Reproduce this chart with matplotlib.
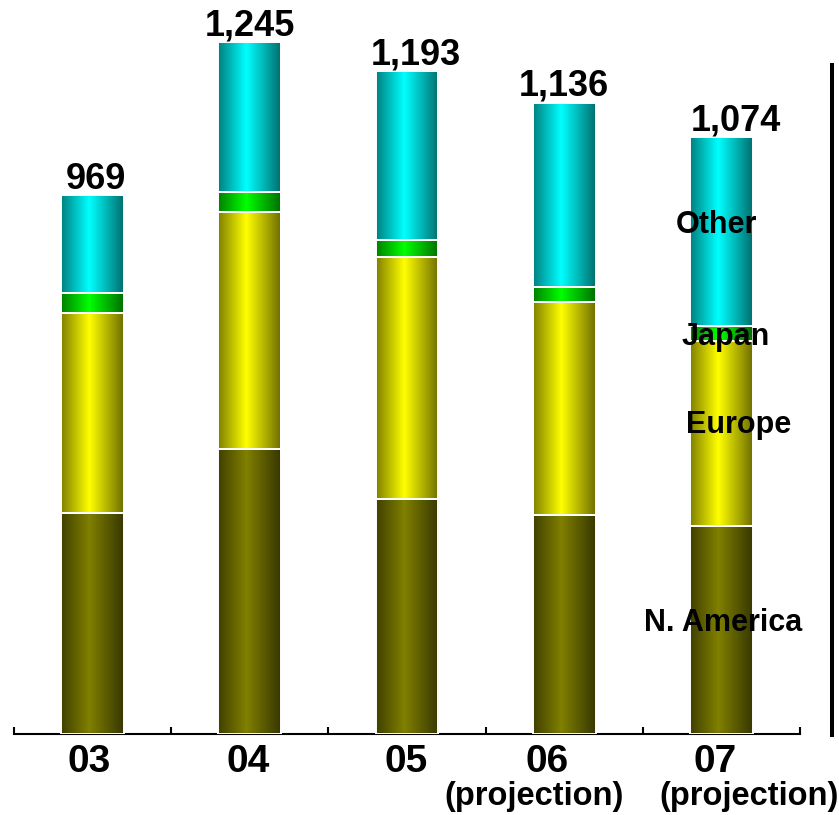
import numpy as np
import matplotlib
matplotlib.use("Agg")
import matplotlib.pyplot as plt
from matplotlib.lines import Line2D

# ---------------- data ----------------
years = ["03", "04", "05", "06", "07"]
projection_note = "(projection)"
projected = [False, False, False, True, True]
regions = ["N. America", "Europe", "Japan", "Other"]
n_america = [398, 513, 423, 394, 374]
europe = [360, 426, 436, 384, 333]
japan = [35, 36, 29, 27, 27]
other = [176, 270, 305, 331, 340]
totals = [969, 1245, 1193, 1136, 1074]

# ---------------- style / layout ----------------
plt.rcParams["font.family"] = ["Liberation Sans", "DejaVu Sans"]
plt.rcParams["font.weight"] = "bold"

base_colors = [(128, 128, 0), (255, 255, 0), (0, 255, 0), (0, 255, 255)]
grad_pos = [0.0, 0.45, 1.0]
grad_fac = [0.5, 1.0, 0.43]

W, H = 839, 815
fig = plt.figure(figsize=(W / 100, H / 100), dpi=100)
ax = fig.add_axes([14 / W, 81 / H, (800 - 14) / W, 722.5 / H])
ax.set_xlim(-0.5, 4.5)
ax.set_ylim(0, 1300)

x = np.arange(len(years))
bar_w = 0.4
series = [n_america, europe, japan, other]
bottom = np.zeros(len(years))

ncols = 200
t = np.linspace(0, 1, ncols)
fac = np.interp(t, grad_pos, grad_fac)

for vals, col in zip(series, base_colors):
    bars = ax.bar(x, vals, bar_w, bottom=bottom, facecolor="none",
                  edgecolor="white", linewidth=1.4, zorder=3)
    c = np.array(col) / 255.0
    img = np.clip(fac[:, None] * c[None, :], 0, 1)[None, :, :]
    for p in bars.patches:
        x0, y0 = p.get_x(), p.get_y()
        ax.imshow(img, extent=[x0, x0 + p.get_width(), y0, y0 + p.get_height()],
                  aspect="auto", interpolation="bilinear", zorder=2)
    bottom = bottom + np.array(vals)

ax.set_xlim(-0.5, 4.5)
ax.set_ylim(0, 1300)

# value labels on top
val_dx = [2.2, 0, 6.5, 0, 10.5]
for i, (tot, dx) in enumerate(zip(totals, val_dx)):
    ax.annotate(f"{tot:,}", xy=(i, tot), xytext=(dx, 5), textcoords="offset points",
                ha="center", va="baseline", fontsize=26, fontweight="bold", zorder=5)

# region labels next to last bar
lab_x = [4 + 1.3 / 157.2, 4 + 17.3 / 157.2, 4 + 4.4 / 157.2, 4 - 4.5 / 157.2]
lab_y = [185.6, 541.6, 699.9, 901.4]
for name, lx, ly in zip(regions, lab_x, lab_y):
    ax.text(lx, ly, name, ha="center", va="baseline", fontsize=22,
            fontweight="bold", zorder=6)

# axes styling
for s in ["left", "right", "top"]:
    ax.spines[s].set_visible(False)
ax.spines["bottom"].set_linewidth(1.5)
ax.spines["bottom"].set_color("black")
ax.set_yticks([])
ax.set_xticks(x)
ax.set_xticklabels([])
ax.tick_params(axis="x", which="major", length=0)
ax.set_xticks(np.arange(-0.5, 5, 1.0), minor=True)
ax.tick_params(axis="x", which="minor", direction="in", length=5, width=1.5, color="black")

# category labels
year_dx = [-2.6, -1.4, -0.7, -12.6, -4.6]
xt = ax.get_xaxis_transform()
for i, (yl, dx) in enumerate(zip(years, year_dx)):
    ax.annotate(yl, xy=(i, 0), xycoords=xt, xytext=(dx, -7), textcoords="offset points",
                ha="center", va="top", fontsize=28, fontweight="bold", annotation_clip=False)
proj_dx = {3: -21.6, 4: 19.9}
for i, pr in enumerate(projected):
    if pr:
        ax.annotate(projection_note, xy=(i, 0), xycoords=xt, xytext=(proj_dx[i], -51),
                    textcoords="offset points", ha="center", va="baseline",
                    fontsize=23.5, fontweight="bold", annotation_clip=False)

# right-side vertical rule
fig.add_artist(Line2D([832 / W, 832 / W], [1 - 65 / H, 1 - 735 / H], lw=2.9, color="black"))

fig.savefig("out.png", dpi=100)
